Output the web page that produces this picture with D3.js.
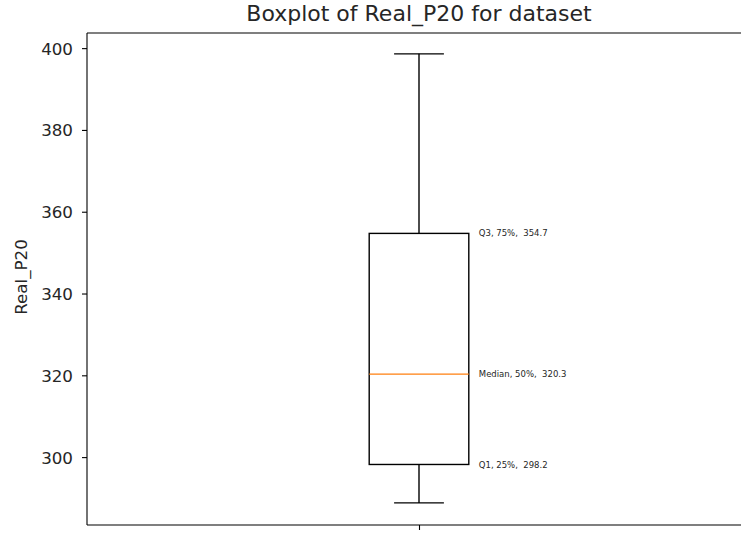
<!DOCTYPE html>
<html>
<head>
<meta charset="utf-8">
<script src="https://cdn.jsdelivr.net/npm/d3@7"></script>
<style>
	body { margin: 0; background: #fff; }
	text { font-family: "DejaVu Sans", sans-serif; fill: #262626; }
</style>
</head>
<body>
<div id="chart"></div>
<script>
// box statistics
var statNames = ["whiskerLow", "q1", "median", "q3", "whiskerHigh"];
var statValues = [288.8, 298.2, 320.3, 354.7, 398.6];
var annotLabels = ["Q1, 25%,  298.2", "Median, 50%,  320.3", "Q3, 75%,  354.7"];
var annotValues = [298.2, 320.3, 354.7];
var yTicks = [300, 320, 340, 360, 380, 400];

var width = 741;
var height = 536;
var margin = {top: 33, right: -10, bottom: 11, left: 87};

var svg = d3.select("#chart")
	.append("svg")
	.attr("width", width)
	.attr("height", height);

var x = d3.scaleLinear()
	.domain([0.5, 1.5])
	.range([margin.left, width - margin.right]);

var y = d3.scaleLinear()
	.domain([283.4, 403.7])
	.range([height - margin.bottom, margin.top]);

var stats = {};
statNames.forEach(function(n, i) { stats[n] = statValues[i]; });

var boxW = 0.15;  // matplotlib default width for one box
var lw = 1.4;

// axes
var yAxis = d3.axisLeft(y).tickValues(yTicks).tickSize(5).tickPadding(9);
var gy = svg.append("g")
	.attr("transform", "translate(" + margin.left + ",0)")
	.call(yAxis);
gy.select(".domain").remove();
gy.selectAll("line").attr("stroke", "#000").attr("stroke-width", 1.1);
gy.selectAll("text").style("font-size", "16.7px").attr("dy", "0.36em");

var xAxis = d3.axisBottom(x).tickValues([1]).tickSize(5).tickFormat("");
var gx = svg.append("g")
	.attr("transform", "translate(0," + (height - margin.bottom) + ")")
	.call(xAxis);
gx.select(".domain").remove();
gx.selectAll("line").attr("stroke", "#000").attr("stroke-width", 1.1);

// frame (right spine is off the picture)
var fr = svg.append("g")
	.attr("stroke", "#000")
	.attr("stroke-width", 1.1)
	.attr("fill", "none");
fr.append("line")
	.attr("x1", margin.left).attr("x2", margin.left)
	.attr("y1", margin.top).attr("y2", height - margin.bottom);
fr.append("line")
	.attr("x1", margin.left).attr("x2", width)
	.attr("y1", margin.top).attr("y2", margin.top);
fr.append("line")
	.attr("x1", margin.left).attr("x2", width)
	.attr("y1", height - margin.bottom).attr("y2", height - margin.bottom);

// whiskers and caps
var bx = svg.append("g")
	.attr("stroke", "#000")
	.attr("stroke-width", lw)
	.attr("fill", "none");

bx.append("line")
	.attr("x1", x(1)).attr("x2", x(1))
	.attr("y1", y(stats.q3)).attr("y2", y(stats.whiskerHigh));
bx.append("line")
	.attr("x1", x(1)).attr("x2", x(1))
	.attr("y1", y(stats.q1)).attr("y2", y(stats.whiskerLow));

bx.selectAll(".cap")
	.data([stats.whiskerLow, stats.whiskerHigh])
	.enter().append("line")
	.attr("class", "cap")
	.attr("x1", x(1 - boxW / 4)).attr("x2", x(1 + boxW / 4))
	.attr("y1", function(d) { return y(d); })
	.attr("y2", function(d) { return y(d); });

bx.append("rect")
	.attr("x", x(1 - boxW / 2))
	.attr("y", y(stats.q3))
	.attr("width", x(1 + boxW / 2) - x(1 - boxW / 2))
	.attr("height", y(stats.q1) - y(stats.q3));

svg.append("line")
	.attr("x1", x(1 - boxW / 2)).attr("x2", x(1 + boxW / 2))
	.attr("y1", y(stats.median)).attr("y2", y(stats.median))
	.attr("stroke", "#ff7f0e")
	.attr("stroke-width", lw);

// annotations next to the box
svg.selectAll(".annot")
	.data(annotValues)
	.enter().append("text")
	.attr("class", "annot")
	.attr("x", x(1 + boxW / 2) + 10)
	.attr("y", function(d) { return y(d); })
	.attr("dy", "0.36em")
	.style("font-size", "8.5px")
	.style("white-space", "pre")
	.text(function(d, i) { return annotLabels[i]; });

// title and y label
svg.append("text")
	.attr("x", x(1))
	.attr("y", 21)
	.attr("text-anchor", "middle")
	.style("font-size", "22px")
	.text("Boxplot of Real_P20 for dataset");

svg.append("text")
	.attr("transform", "translate(27,277) rotate(-90)")
	.attr("text-anchor", "middle")
	.style("font-size", "16.7px")
	.text("Real_P20");
</script>
</body>
</html>
